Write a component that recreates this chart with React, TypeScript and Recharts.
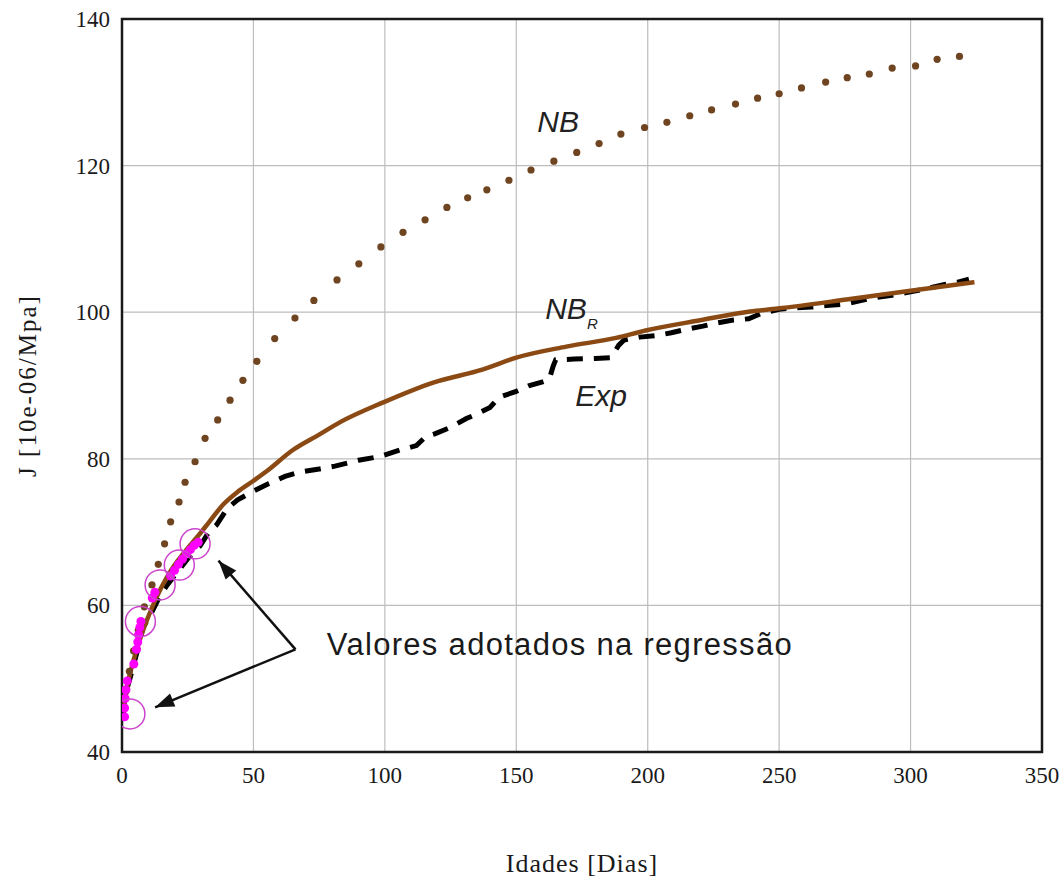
import React from 'react'
import { ComposedChart, Line, Scatter, XAxis, YAxis, CartesianGrid, ReferenceArea } from 'recharts'

const xTicks = [0, 50, 100, 150, 200, 250, 300, 350]
const yTicks = [40, 60, 80, 100, 120, 140]

// NB curve, one entry per dot
const nbPoints: [number, number][] = [
  [1.5, 48.3], [2.8, 51], [4.4, 53.8], [6.2, 56.6], [8.5, 59.8], [11.4, 62.8], [13.8, 65.6],
  [16.2, 68.4], [18.5, 71.4], [21.7, 74.1], [24, 76.8], [27.8, 79.6], [31.6, 82.8], [36.4, 85.3],
  [41.1, 88], [46, 90.7], [51.3, 93.3], [58.1, 96.4], [65.8, 99.2], [73, 101.6], [81.8, 104.4],
  [90.1, 106.6], [98.5, 108.9], [106.9, 110.9], [115.3, 112.6], [123.6, 114.3], [131.5, 115.6],
  [138.8, 116.7], [147.2, 118], [155.6, 119.4], [164.3, 120.6], [173, 121.8], [181.5, 123],
  [189.8, 124.3], [198.8, 125.2], [207.3, 125.9], [216, 126.8], [224.3, 127.6], [233.4, 128.4],
  [241.8, 129.2], [250, 129.8], [258.5, 130.6], [267.7, 131.4], [275.9, 132], [284.3, 132.5],
  [293, 133.3], [301.9, 133.6], [310.1, 134.5], [318.6, 134.9],
]

// NB_R regression curve
const nbrPoints: [number, number][] = [
  [0.5, 45.5], [2, 49], [4, 52], [6.5, 55], [9.5, 58], [13, 61], [17, 63.8], [21, 66], [25, 67.8],
  [29, 69.5], [33, 71.3], [38.6, 73.8], [44, 75.5], [50, 77], [55, 78.3], [65, 81.2], [75, 83.3],
  [83, 85], [99.4, 87.7], [118.4, 90.4], [137.4, 92.2], [150, 93.8], [169, 95.3], [188, 96.5],
  [199.2, 97.5], [220, 98.9], [239, 100.1], [249.5, 100.5], [277, 101.8], [299.3, 102.9], [324.3, 104.1],
]

// experimental values
const expPoints: [number, number][] = [
  [0.5, 45], [1.1, 47.7], [3, 50], [6, 54], [8, 57], [10.7, 58.6], [14, 61], [17, 62.7], [22, 65],
  [26, 66.8], [29.7, 68.1], [33, 70], [36, 71], [40, 73.2], [44, 74.4], [50, 75.6], [55.7, 76.6],
  [62, 77.6], [67.8, 78.2], [75, 78.6], [81, 79], [90, 79.8], [98, 80.3], [105.8, 81.2], [112, 81.8],
  [115.5, 83], [119, 83.4], [125, 84.3], [131, 85.5], [135, 86.1], [140, 87], [143.5, 88.4],
  [150, 89.2], [155, 90], [160, 90.5], [162.5, 90.8], [164, 92.6], [165, 93.5], [172, 93.6],
  [180, 93.7], [186, 93.8], [189, 95.5], [191, 96.2], [197, 96.6], [203, 96.8], [209, 97.2],
  [215, 97.7], [221, 98.1], [226, 98.5], [232, 98.9], [238.4, 99.1], [243, 99.8], [250, 100.4],
  [256, 100.6], [262.4, 100.7], [268, 100.9], [275, 101.1], [281, 101.6], [287, 102], [293, 102.3],
  [299, 102.7], [306, 103.2], [313, 103.8], [318, 104.1], [322.2, 104.5],
]

// values used in the regression (magenta)
const adoptedPoints: [number, number][] = [
  [1, 44.8], [1, 46], [1.2, 47.3], [1.5, 48.5], [2, 49.7], [4.5, 52], [5.5, 54], [6, 55], [6.3, 56],
  [6.8, 57], [7.2, 57.8], [11.5, 61], [12.5, 61.8], [18.5, 64], [20, 64.8], [21.5, 65.6], [23, 66.3],
  [24.5, 67], [26, 67.6], [27.5, 68.2], [29, 68.6],
]
const adoptedCircles: [number, number][] = [[3, 45.2], [7, 57.8], [14.5, 62.8], [21.8, 65.5], [27.8, 68.4]]

const arrowApex: [number, number] = [66, 54]
const arrowTips: [number, number][] = [[36.7, 66.1], [12.6, 46.1]]

const curveLabels = [
  { x: 158, y: 124.6, text: 'NB', sub: '' },
  { x: 161, y: 99.1, text: 'NB', sub: 'R' },
  { x: 172.4, y: 87.2, text: 'Exp', sub: '' },
]
const noteLabels = [{ x: 77.9, y: 53.2, text: 'Valores adotados na regressão' }]

const toData = (pts: [number, number][]) => pts.map(([x, y]) => ({ x, y }))

const serif = '"Liberation Serif", "Times New Roman", serif'
const sans = '"Liberation Sans", Arial, sans-serif'

const XTick = ({ x, y, payload }: any) => (
  <text x={x} y={y + 31} textAnchor="middle" fontFamily={serif} fontSize={23} fill="#1a1a1a">
    {payload.value}
  </text>
)

const YTick = ({ x, y, payload }: any) => (
  <text x={x - 12} y={y + 8} textAnchor="end" fontFamily={serif} fontSize={23} fill="#1a1a1a">
    {payload.value}
  </text>
)

const XTitle = ({ viewBox }: any) => (
  <text x={viewBox.x + viewBox.width / 2} y={viewBox.y + viewBox.height - 8} textAnchor="middle"
    fontFamily={serif} fontSize={26} letterSpacing={1} fill="#1a1a1a">
    Idades [Dias]
  </text>
)

const YTitle = ({ viewBox }: any) => {
  const cx = 27
  const cy = viewBox.y + viewBox.height / 2
  return (
    <text x={cx} y={cy} transform={`rotate(-90 ${cx} ${cy})`} textAnchor="middle" dominantBaseline="central"
      fontFamily={serif} fontSize={25} letterSpacing={2} fill="#1a1a1a">
      J [10e-06/Mpa]
    </text>
  )
}

const ArrowHead = (props: any) => {
  const { cx, cy, index, points } = props
  if (index !== 1 || !points || !points[0]) return <g key={`ah-${index}`} />
  const a = Math.atan2(cy - points[0].y, cx - points[0].x)
  const len = 19
  const half = 7
  const bx = cx - len * Math.cos(a)
  const by = cy - len * Math.sin(a)
  const px = -Math.sin(a) * half
  const py = Math.cos(a) * half
  return (
    <polygon key={`ah-${index}`} points={`${cx},${cy} ${bx + px},${by + py} ${bx - px},${by - py}`} fill="#111" />
  )
}

export default function App() {
  return (
    <div style={{ position: 'absolute', left: 0, top: 0, background: '#fff' }}>
      <ComposedChart width={1063} height={880} margin={{ top: 19, right: 21, bottom: 0, left: 0 }}>
        <CartesianGrid stroke="#bdbdbd" strokeWidth={1.2} />
        <XAxis type="number" dataKey="x" domain={[0, 350]} ticks={xTicks} height={128}
          axisLine={false} tickLine={false} tickSize={0} tickMargin={0} tick={XTick}
          allowDataOverflow label={XTitle} />
        <YAxis type="number" dataKey="y" domain={[40, 140]} ticks={yTicks} width={122}
          axisLine={false} tickLine={false} tickSize={0} tickMargin={0} tick={YTick}
          allowDataOverflow label={YTitle} />
        <ReferenceArea x1={0} x2={350} y1={40} y2={140} fill="none" stroke="#1a1a1a" strokeWidth={2.5} ifOverflow="visible" />

        <Line data={toData(expPoints)} dataKey="y" type="linear" stroke="#000" strokeWidth={5}
          strokeDasharray="16 11" dot={false} isAnimationActive={false} />
        <Line data={toData(nbrPoints)} dataKey="y" type="monotone" stroke="#8b4a14" strokeWidth={4.5}
          dot={false} isAnimationActive={false} />
        <Scatter data={toData(nbPoints)} dataKey="y" isAnimationActive={false}
          shape={(p: any) => <circle cx={p.cx} cy={p.cy} r={3.6} fill="#6e4520" />} />

        <Scatter data={toData(adoptedPoints)} dataKey="y" isAnimationActive={false}
          shape={(p: any) => <circle cx={p.cx} cy={p.cy} r={4.5} fill="#ff00ff" />} />
        <Scatter data={toData(adoptedCircles)} dataKey="y" isAnimationActive={false}
          shape={(p: any) => <circle cx={p.cx} cy={p.cy} r={15} fill="none" stroke="#cc44cc" strokeWidth={1.5} />} />

        {arrowTips.map((tip, i) => (
          <Line key={`arrow-${i}`} data={toData([arrowApex, tip])} dataKey="y" type="linear" stroke="#111"
            strokeWidth={2.5} dot={ArrowHead} activeDot={false} isAnimationActive={false} />
        ))}

        <Scatter data={curveLabels} dataKey="y" isAnimationActive={false}
          shape={(p: any) => (
            <text x={p.cx} y={p.cy} fontFamily={sans} fontStyle="italic" fontSize={30} fill="#222">
              {p.payload.text}
              {p.payload.sub ? <tspan fontSize={15} dy={10}>{p.payload.sub}</tspan> : null}
            </text>
          )} />
        <Scatter data={noteLabels} dataKey="y" isAnimationActive={false}
          shape={(p: any) => (
            <text x={p.cx} y={p.cy} fontFamily={sans} fontSize={31} letterSpacing={1.3} fill="#1a1a1a">
              {p.payload.text}
            </text>
          )} />
      </ComposedChart>
    </div>
  )
}
